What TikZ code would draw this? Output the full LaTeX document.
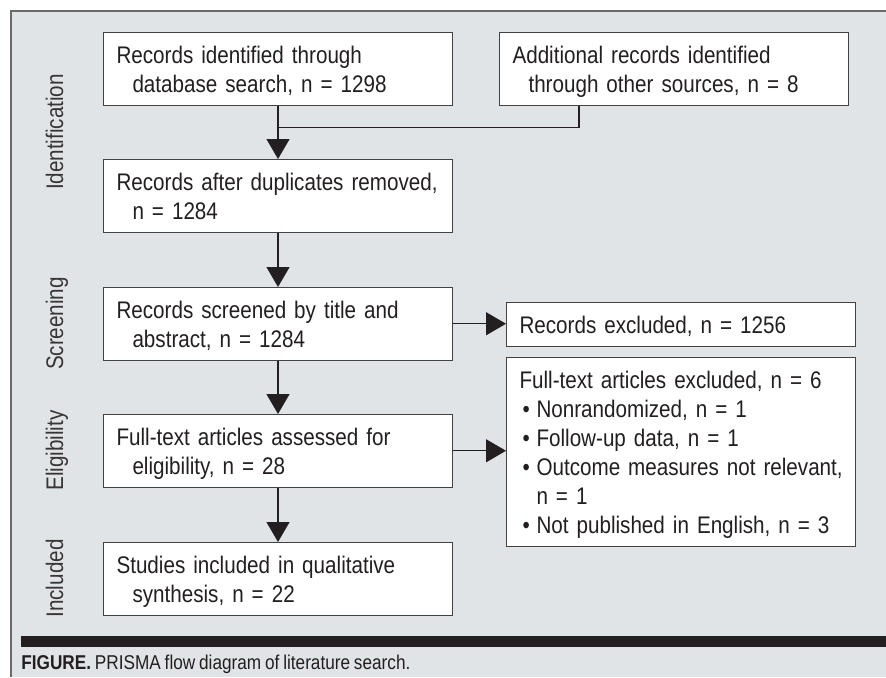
\documentclass[tikz,border=0pt]{standalone}
\usepackage{fontspec}
\setmainfont[FakeStretch=0.86,WordSpace=0.8]{Liberation Sans}
\usepackage{xcolor}
\usepackage{tikz}
\usetikzlibrary{arrows.meta}
\definecolor{panel}{HTML}{E1E4E7}
\definecolor{ink}{HTML}{231F20}
\definecolor{rim}{HTML}{6B6B6B}
\newcommand{\topstrut}{\rule{0pt}{15.25pt}}
\newcommand{\botstrut}{\rule[-6.5pt]{0pt}{6.5pt}}
\newcommand{\hang}{\hspace*{8pt}}
\newcommand{\bul}{\makebox[8.5pt][l]{\hspace{1.5pt}\textbullet}}

\begin{document}
\begin{tikzpicture}[x=0.5pt,y=0.5pt]
\tikzstyle{every node}+=[inner sep=0pt, text=ink]
\tikzstyle{box}=[draw=ink!85, fill=white, line width=0.5pt, anchor=north west, align=left, inner xsep=6.5pt, inner ysep=0pt, text width=161.5pt, minimum width=174.5pt, font=\fontsize{12}{14.5}\selectfont, execute at begin node=\topstrut, execute at end node=\botstrut]
\tikzstyle{phase}=[rotate=90, anchor=base, text=ink!90, font=\fontsize{12}{14.5}\selectfont]
\tikzstyle{link}=[ink, line width=0.65pt]
\tikzstyle{flow}=[link, -{Triangle[length=10pt,width=11.5pt]}]
\useasboundingbox (0,0) rectangle (886,-677);
\fill [panel] (11,-11) rectangle (886,-677);
\draw [rim, line width=0.6pt] (886,-11) -- (11,-11) -- (11,-677);
\fill [ink] (21,-636) rectangle (886,-647);
\node [box] (dbsearch) at (103,-32) {Records identified through\\\hang database search, n = 1298};
\node [box] (other) at (499,-32) {Additional records identified\\\hang through other sources, n = 8};
\node [box] (dupl) at (103,-159) {Records after duplicates removed,\\\hang n = 1284};
\node [box] (screened) at (103,-287) {Records screened by title and\\\hang abstract, n = 1284};
\node [box] (excl) at (506,-302) {Records excluded, n = 1256};
\node [box] (fulltext) at (103,-414) {Full-text articles assessed for\\\hang eligibility, n = 28};
\node [box] (ftexcl) at (506,-357) {Full-text articles excluded, n = 6\\\bul Nonrandomized, n = 1\\\bul Follow-up data, n = 1\\\bul \mbox{Outcome measures not relevant,}\\\hspace*{8.5pt}n = 1\\\bul Not published in English, n = 3};
\node [box] (incl) at (103,-542) {Studies included in qualitative\\\hang synthesis, n = 22};
\node [phase] (ident) at (63,-132) {Identification};
\node [phase] (screen) at (63,-323.5) {Screening};
\node [phase] (elig) at (63,-450.5) {Eligibility};
\node [phase] (inc) at (63,-578.5) {Included};
\node [anchor=base west, font=\fontsize{10}{12}\selectfont] (caption) at (21,-669) {\textbf{FIGURE.} PRISMA flow diagram of literature search.};
\path (dbsearch.south) ++(0,-22) coordinate (merge);
\draw [link] ([xshift=40pt]other.south west) |- (merge);
\draw [flow] (dbsearch) -- (dupl);
\draw [flow] (dupl) -- (screened);
\draw [flow] (screened) -- (fulltext);
\draw [flow] (fulltext) -- (incl);
\draw [flow] (screened.east) -- (screened.east -| excl.west);
\draw [flow] (fulltext.east) -- (fulltext.east -| ftexcl.west);
\end{tikzpicture}
\end{document}
